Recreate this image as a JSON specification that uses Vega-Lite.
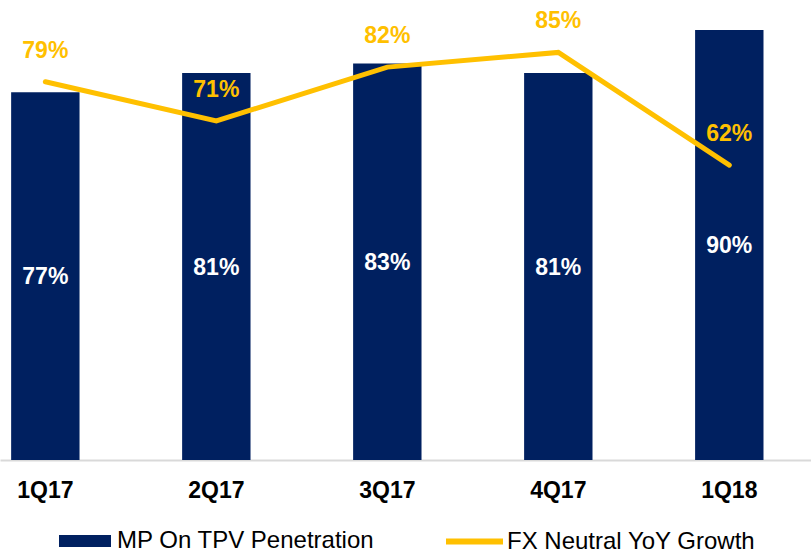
{
  "$schema": "https://vega.github.io/schema/vega-lite/v6.json",
  "width": 811,
  "height": 460,
  "autosize": {"type": "none"},
  "padding": {"left": 0, "top": 0, "right": 0, "bottom": 91},
  "background": "white",
  "config": {
    "view": {"stroke": null},
    "font": "Liberation Sans"
  },
  "data": {
    "values": [
      {"q": "1Q17", "mp": 0.77, "fx": 0.79},
      {"q": "2Q17", "mp": 0.81, "fx": 0.71},
      {"q": "3Q17", "mp": 0.83, "fx": 0.82},
      {"q": "4Q17", "mp": 0.81, "fx": 0.85},
      {"q": "1Q18", "mp": 0.90, "fx": 0.62}
    ]
  },
  "encoding": {
    "x": {
      "field": "q",
      "type": "nominal",
      "sort": null,
      "title": null,
      "scale": {"paddingInner": 0.6, "paddingOuter": 0.1715, "align": 0.19},
      "axis": {
        "labelAngle": 0,
        "labelFont": "Liberation Sans",
        "labelFontSize": 23,
        "labelFontWeight": "bold",
        "labelColor": "#000000",
        "labelBaseline": "alphabetic",
        "labelPadding": 37,
        "ticks": false,
        "tickSize": 0,
        "domainColor": "#D9D9D9",
        "domainWidth": 2,
        "grid": false
      }
    }
  },
  "layer": [
    {
      "mark": {"type": "bar"},
      "encoding": {
        "y": {"field": "mp", "type": "quantitative", "scale": {"domain": [0, 0.963], "nice": false, "zero": true}, "axis": null},
        "fill": {
          "datum": "MP On TPV Penetration",
          "type": "nominal",
          "scale": {"range": ["#002060"]},
          "legend": {
            "title": null,
            "orient": "none",
            "legendX": 59,
            "legendY": 515,
            "padding": 0,
            "symbolType": "M-1,-0.23H1V0.23H-1Z",
            "symbolSize": 2704,
            "symbolStrokeWidth": 0,
            "labelFont": "Liberation Sans",
            "labelFontSize": 24,
            "labelColor": "#000000",
            "labelOffset": 6,
            "labelLimit": 400
          }
        }
      }
    },
    {
      "mark": {"type": "line", "strokeWidth": 5, "strokeCap": "round", "strokeJoin": "miter"},
      "encoding": {
        "y": {"field": "fx", "type": "quantitative", "scale": {"domain": [0.0178, 0.957], "nice": false, "zero": false}, "axis": null},
        "stroke": {
          "datum": "FX Neutral YoY Growth",
          "type": "nominal",
          "scale": {"range": ["#FFC000"]},
          "legend": {
            "title": null,
            "orient": "none",
            "legendX": 443,
            "legendY": 510,
            "padding": 0,
            "symbolType": "stroke",
            "symbolSize": 3249,
            "symbolStrokeWidth": 6,
            "labelFont": "Liberation Sans",
            "labelFontSize": 24,
            "labelColor": "#000000",
            "labelOffset": 1,
            "labelLimit": 400
          }
        }
      }
    },
    {
      "mark": {"type": "text", "color": "#FFFFFF", "font": "Liberation Sans", "fontSize": 23, "fontWeight": "bold", "baseline": "middle", "align": "center", "dy": 1},
      "encoding": {
        "y": {"field": "mp", "type": "quantitative", "scale": {"domain": [0, 1.926], "nice": false, "zero": true}, "axis": null},
        "text": {"field": "mp", "type": "quantitative", "format": ".0%"}
      }
    },
    {
      "mark": {"type": "text", "color": "#FFC000", "font": "Liberation Sans", "fontSize": 23, "fontWeight": "bold", "baseline": "middle", "align": "center", "dy": -31},
      "encoding": {
        "y": {"field": "fx", "type": "quantitative", "scale": {"domain": [0.0178, 0.957], "nice": false, "zero": false}, "axis": null},
        "text": {"field": "fx", "type": "quantitative", "format": ".0%"}
      }
    }
  ],
  "resolve": {"scale": {"y": "independent", "fill": "independent", "stroke": "independent"}}
}
